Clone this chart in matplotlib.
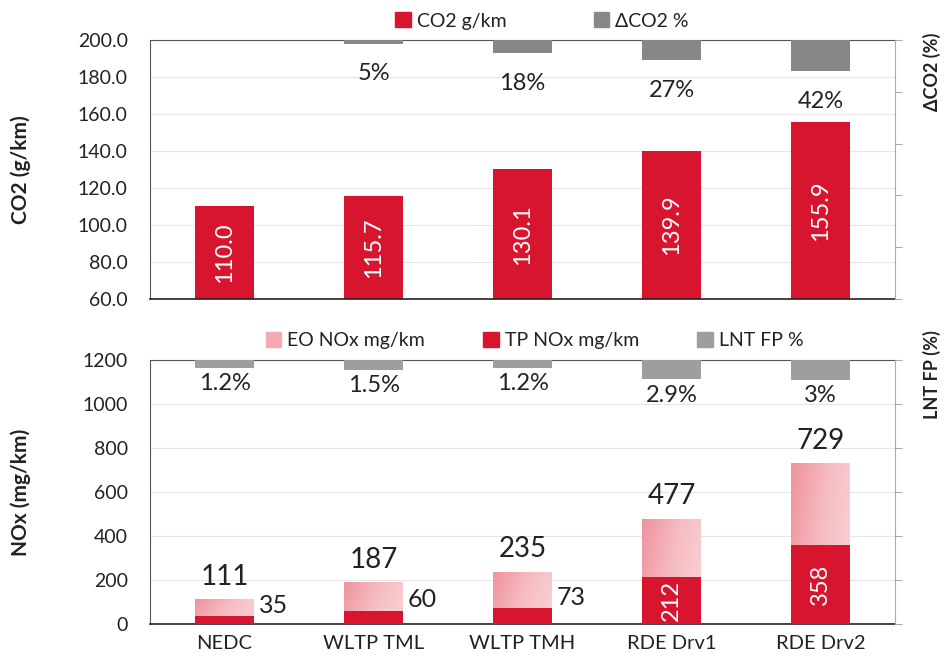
import matplotlib.pyplot as plt
import numpy as np
from matplotlib.colors import LinearSegmentedColormap
from matplotlib.patches import Patch

plt.rcParams['font.family'] = ['Lato', 'DejaVu Sans']

# data
cycles = ['NEDC', 'WLTP TML', 'WLTP TMH', 'RDE Drv1', 'RDE Drv2']
co2 = [110.0, 115.7, 130.1, 139.9, 155.9]
dco2 = [0, 5, 18, 27, 42]
eo_nox = [111, 187, 235, 477, 729]
tp_nox = [35, 60, 73, 212, 358]
lnt_fp = [1.2, 1.5, 1.2, 2.9, 3.0]
lnt_labels = ['1.2%', '1.5%', '1.2%', '2.9%', '3%']

RED = '#d8152f'
GRAY_TOP = '#878787'
GRAY_BOT = '#9e9e9e'
TXT = '#222222'
pink = LinearSegmentedColormap.from_list('pink', ['#ef939d', '#f6bcc2', '#f9d3d7'])

x = np.arange(len(cycles))
w = 0.39

fig = plt.figure(figsize=(9.46, 6.57), dpi=100)
ax1 = fig.add_axes([0.1586, 0.545, 0.7875, 0.394])
ax2 = fig.add_axes([0.1586, 0.050, 0.7875, 0.402])


def style(ax):
    ax.set_xlim(-0.5, len(cycles) - 0.5)
    ax.grid(axis='y', color='#e6e6e6', lw=0.8)
    ax.set_axisbelow(True)
    for s in ['left', 'top']:
        ax.spines[s].set_color('#555555')
    ax.spines['bottom'].set_color('#222222')
    ax.spines['bottom'].set_linewidth(1.2)
    ax.spines['right'].set_visible(False)
    ax.tick_params(axis='y', length=0, labelsize=14, colors=TXT, pad=16)
    ax.tick_params(axis='x', length=0, labelsize=14.5, colors=TXT, pad=8)


def style_twin(tw):
    for s in ['left', 'top', 'bottom']:
        tw.spines[s].set_visible(False)
    tw.spines['right'].set_color('#aaaaaa')
    tw.tick_params(axis='y', length=5, color='#aaaaaa', labelright=False)


# ---- top panel: CO2 ----
style(ax1)
ax1.bar(x, [v - 60 for v in co2], w, bottom=60, color=RED, zorder=2)
ax1.set_ylim(60, 200)
ax1.set_yticks(np.arange(60, 201, 20))
ax1.set_yticklabels([f'{t:.1f}' for t in np.arange(60, 201, 20)])
ax1.set_xticks(x)
ax1.set_xticklabels([])
ax1.set_ylabel('CO2 (g/km)', fontsize=15, fontweight='bold', color=TXT)
ax1.yaxis.set_label_coords(-0.16, 0.5)
for xi, v in zip(x, co2):
    ax1.text(xi, (60 + v) / 2, f'{v:.1f}', rotation=90, ha='center', va='center',
             color='white', fontsize=17, zorder=3)

tw1 = ax1.twinx()
style_twin(tw1)
tw1.bar(x, dco2, w, color=GRAY_TOP, zorder=2)
tw1.set_ylim(350, 0)
tw1.set_yticks(np.arange(0, 351, 70))
for xi, v in zip(x, dco2):
    if v > 0:
        tw1.annotate(f'{v}%', (xi, v), xytext=(0, -30), textcoords='offset pixels',
                     ha='center', va='center', fontsize=17, color=TXT)

# ---- bottom panel: NOx ----
style(ax2)
eo_bars = ax2.bar(x, eo_nox, w, color='none', zorder=2)
gy, gx = np.mgrid[0:1:60j, 0:1:60j]
grad = 0.75 * gx + 0.25 * gy
for b in eo_bars:
    bx, by, bw, bh = b.get_x(), b.get_y(), b.get_width(), b.get_height()
    ax2.imshow(grad, extent=[bx, bx + bw, by, by + bh], origin='upper',
               cmap=pink, aspect='auto', zorder=2, vmin=0, vmax=1)
ax2.bar(x, tp_nox, w, color=RED, zorder=3)
ax2.set_xlim(-0.5, len(cycles) - 0.5)
ax2.set_ylim(0, 1200)
ax2.set_yticks(np.arange(0, 1201, 200))
ax2.set_xticks(x)
ax2.set_xticklabels(cycles)
ax2.set_ylabel('NOx (mg/km)', fontsize=15, fontweight='bold', color=TXT)
ax2.yaxis.set_label_coords(-0.16, 0.5)

for xi, v in zip(x, eo_nox):
    ax2.annotate(str(v), (xi, v), xytext=(0, 10), textcoords='offset pixels',
                 ha='center', va='bottom', fontsize=20, color=TXT)
for xi, v in zip(x, tp_nox):
    if v > 150:
        ax2.text(xi, v / 2, str(v), rotation=90, ha='center', va='center',
                 color='white', fontsize=17, zorder=4)
    else:
        ax2.annotate(str(v), (xi + w / 2, v), xytext=(5, 11), textcoords='offset pixels',
                     ha='left', va='center', fontsize=18, color=TXT)

tw2 = ax2.twinx()
style_twin(tw2)
tw2.bar(x, lnt_fp, w, color=GRAY_BOT, zorder=2)
tw2.set_ylim(40, 0)
tw2.set_yticks(np.linspace(0, 40, 7))
for xi, v, lab in zip(x, lnt_fp, lnt_labels):
    tw2.annotate(lab, (xi, v), xytext=(0, -16), textcoords='offset pixels',
                 ha='center', va='center', fontsize=17, color=TXT)

# right axis titles
fig.text(0.985, 0.89, 'ΔCO2 (%)', rotation=90, ha='center', va='center',
         fontsize=13, fontweight='bold', color=TXT)
fig.text(0.985, 0.43, 'LNT FP (%)', rotation=90, ha='center', va='center',
         fontsize=13, fontweight='bold', color=TXT)

# legends
fig.legend(handles=[Patch(color=RED, label='CO2 g/km'),
                    Patch(color=GRAY_TOP, label='ΔCO2 %')],
           loc='center', bbox_to_anchor=(0.573, 0.968), ncol=2, frameon=False,
           fontsize=14, handlelength=0.8, handleheight=0.8, handletextpad=0.3,
           columnspacing=4.5, labelcolor=TXT)
fig.legend(handles=[Patch(color='#f4aab2', label='EO NOx mg/km'),
                    Patch(color=RED, label='TP NOx mg/km'),
                    Patch(color=GRAY_BOT, label='LNT FP %')],
           loc='center', bbox_to_anchor=(0.565, 0.482), ncol=3, frameon=False,
           fontsize=14, handlelength=0.8, handleheight=0.8, handletextpad=0.3,
           columnspacing=3.0, labelcolor=TXT)

fig.savefig('out.png', dpi=100)
